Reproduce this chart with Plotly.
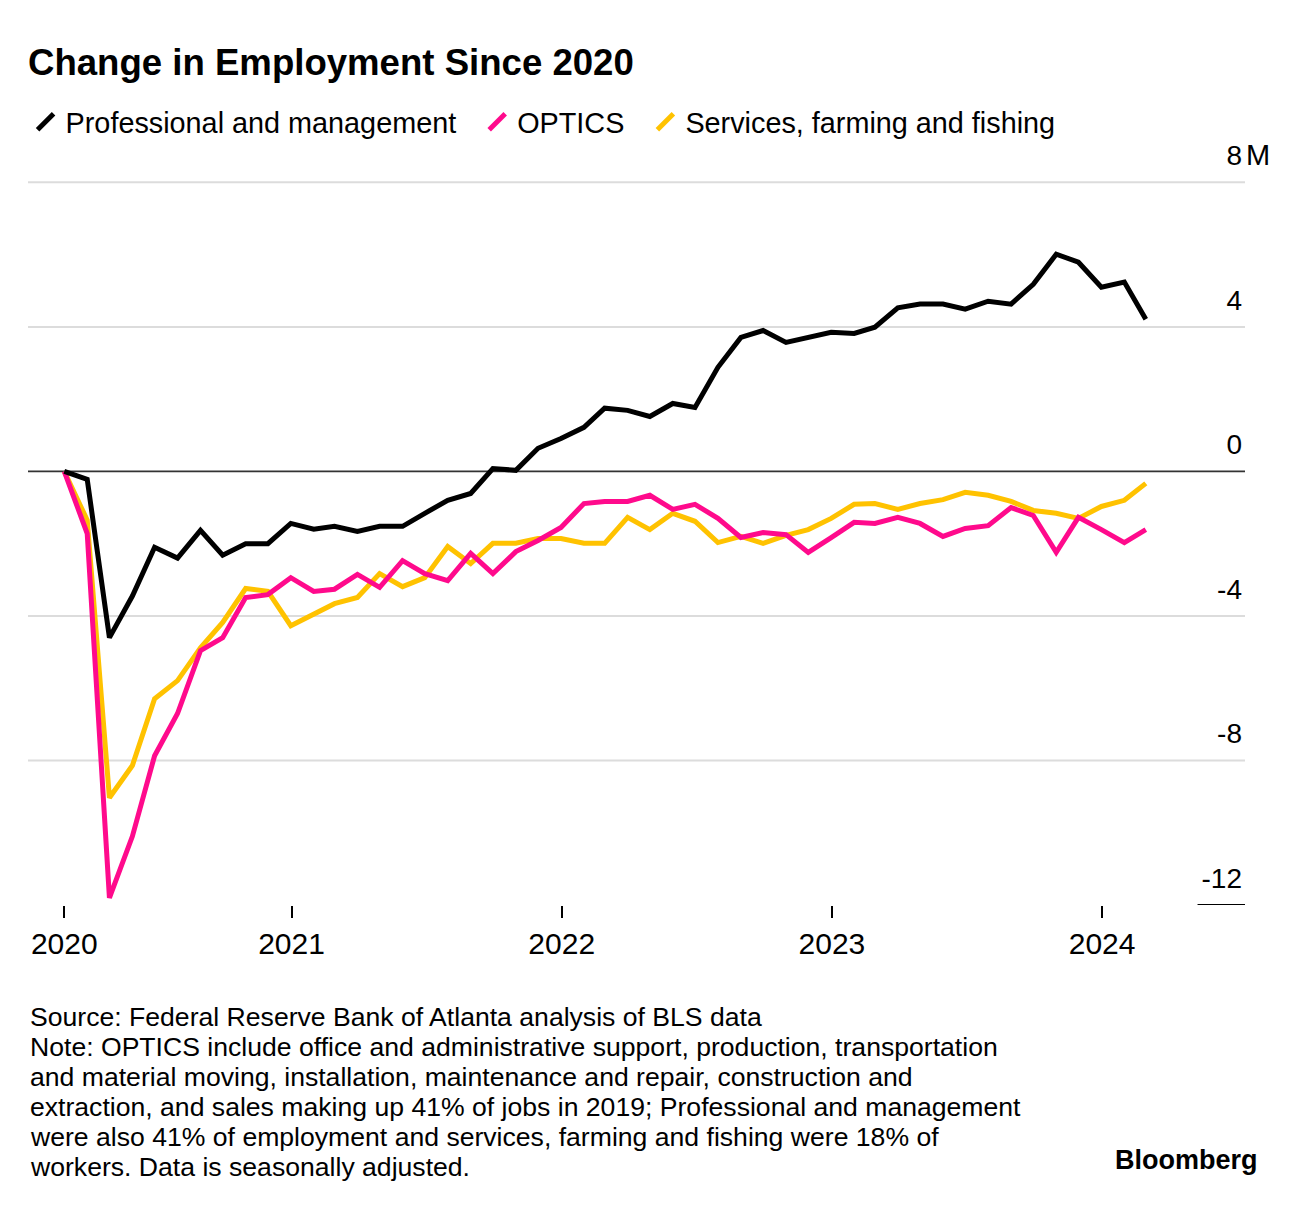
import pandas as pd
import plotly.graph_objects as go

# ---- data (millions, change since Feb 2020) ----
dates = pd.date_range("2020-02-01", periods=49, freq="MS") + pd.offsets.MonthEnd(0)

professional = [0, -0.22, -4.6, -3.45, -2.1, -2.4, -1.63, -2.32, -2.0, -2.0,
                -1.44, -1.6, -1.52, -1.66, -1.52, -1.52, -1.16, -0.8, -0.61, 0.08,
                0.03, 0.64, 0.91, 1.22, 1.75, 1.69, 1.52, 1.88, 1.77, 2.88,
                3.71, 3.9, 3.57, 3.71, 3.85, 3.82, 3.99, 4.53, 4.63, 4.63,
                4.49, 4.71, 4.63, 5.18, 6.01, 5.79, 5.1, 5.24, 4.21]

optics = [0, -1.72, -11.8, -10.1, -7.87, -6.7, -4.96, -4.6, -3.49, -3.41,
          -2.94, -3.32, -3.26, -2.85, -3.21, -2.47, -2.83, -3.02, -2.27, -2.83,
          -2.22, -1.91, -1.55, -0.89, -0.83, -0.83, -0.66, -1.05, -0.91, -1.3,
          -1.83, -1.69, -1.75, -2.24, -1.83, -1.41, -1.44, -1.27, -1.44, -1.8,
          -1.58, -1.5, -1.0, -1.22, -2.24, -1.27, -1.61, -1.97, -1.61]

services = [0, -1.35, -9.03, -8.14, -6.29, -5.79, -4.88, -4.18, -3.24, -3.32,
            -4.27, -3.93, -3.66, -3.49, -2.83, -3.19, -2.94, -2.08, -2.55, -1.99,
            -1.99, -1.86, -1.86, -1.99, -1.99, -1.27, -1.61, -1.16, -1.38, -1.97,
            -1.8, -1.99, -1.77, -1.61, -1.3, -0.91, -0.89, -1.05, -0.89, -0.78,
            -0.58, -0.66, -0.83, -1.08, -1.16, -1.3, -0.97, -0.8, -0.33]

series_names = ["Professional and management", "OPTICS", "Services, farming and fishing"]
series_colors = ["#000000", "#ff0a8c", "#ffc200"]

x_tickvals = [dates[0], "2021-01-01", "2022-01-01", "2023-01-01", "2024-01-01"]
x_ticktext = ["2020", "2021", "2022", "2023", "2024"]
y_tickvals = [-12, -8, -4, 0, 4, 8]
y_ticktext = ["-12", "-8", "-4", "0", "4", "8"]
grid_values = [8, 4, -4, -8]

FONT = "Liberation Sans, Arial, Helvetica, sans-serif"
OFF = 8  # page body offset of the figure div

fig = go.Figure()

# legend-only entries (diagonal stroke symbol); nbsp pads the spacing between entries
for name, color in zip(series_names, series_colors):
    fig.add_trace(go.Scatter(
        x=[None], y=[None], mode="markers", name=name + "\u00a0\u00a0",
        marker=dict(symbol="line-ne", size=16, color=color,
                    line=dict(color=color, width=5)),
        showlegend=True, hoverinfo="skip"))

# data lines (drawn services -> optics -> professional)
for vals, name, color in [(services, series_names[2], series_colors[2]),
                          (optics, series_names[1], series_colors[1]),
                          (professional, series_names[0], series_colors[0])]:
    fig.add_trace(go.Scatter(
        x=dates, y=vals, mode="lines", name=name,
        line=dict(color=color, width=5, shape="linear"),
        showlegend=False))

shapes = []
for g in grid_values:
    shapes.append(dict(type="line", xref="paper", yref="y", x0=0, x1=1, y0=g, y1=g,
                       line=dict(color="#dcdcdc", width=2), layer="below"))
shapes.append(dict(type="line", xref="paper", yref="y", x0=0, x1=1, y0=0, y1=0,
                   line=dict(color="#333333", width=1.6), layer="below"))
shapes.append(dict(type="line", xref="paper", yref="y", x0=0.961, x1=1, y0=-12, y1=-12,
                   line=dict(color="#000000", width=2), layer="below"))

H_PLOT = 766.0
def py(pix):
    return (905.0 - pix) / H_PLOT

annotations = [
    dict(text="M", xref="paper", yref="y", x=1, y=8, xanchor="left", yanchor="middle",
         xshift=-1, yshift=27, showarrow=False, font=dict(size=29, color="#000000", family=FONT)),
]

footer_lines = [
    "Source: Federal Reserve Bank of Atlanta analysis of BLS data",
    "Note: OPTICS include office and administrative support, production, transportation",
    "and material moving, installation, maintenance and repair, construction and",
    "extraction, and sales making up 41% of jobs in 2019; Professional and management",
    "were also 41% of employment and services, farming and fishing were 18% of",
    "workers. Data is seasonally adjusted.",
]
for i, line in enumerate(footer_lines):
    annotations.append(dict(text=line, xref="paper", yref="paper", x=0, y=py(1017 + 30 * i),
                            xanchor="left", yanchor="middle", showarrow=False,
                            font=dict(size=26.6, color="#000000", family=FONT)))
annotations.append(dict(text="<b>Bloomberg</b>", xref="paper", yref="paper",
                        x=(1260 - 28) / 1217.0, y=py(1160), xanchor="right", yanchor="middle",
                        showarrow=False, font=dict(size=27, color="#000000", family=FONT)))

W, H = 1296 - OFF, 1206 - OFF
fig.update_layout(
    width=W, height=H,
    margin=dict(l=28 - OFF, r=51, t=139 - OFF, b=301),
    paper_bgcolor="#ffffff", plot_bgcolor="#ffffff",
    font=dict(family=FONT, color="#000000"),
    title=dict(text="<b>Change in Employment Since 2020</b>", x=(28 - OFF) / W, xanchor="left",
               xref="container", yref="container", y=1 - (62 - OFF) / H, yanchor="middle",
               font=dict(size=36.6, color="#000000", family=FONT)),
    legend=dict(orientation="h", x=-0.002, xanchor="left", y=py(122), yanchor="middle",
                font=dict(size=28.8, color="#000000", family=FONT),
                itemsizing="trace", bgcolor="rgba(0,0,0,0)", traceorder="normal"),
    shapes=shapes,
    annotations=annotations,
    xaxis=dict(type="date", range=["2020-01-11", "2024-07-12"],
               tickvals=x_tickvals, ticktext=x_ticktext,
               ticks="outside", ticklen=12, tickwidth=1.5, tickcolor="#000000",
               showgrid=False, zeroline=False, showline=False,
               tickfont=dict(size=30, color="#000000", family=FONT)),
    yaxis=dict(range=[-12, 9.2], side="right", tickvals=y_tickvals, ticktext=y_ticktext,
               ticklabelposition="inside", ticklabelshift=-27, ticks="",
               showgrid=False, zeroline=False, showline=False,
               tickfont=dict(size=28, color="#000000", family=FONT)),
)

fig.write_html("out.html")
